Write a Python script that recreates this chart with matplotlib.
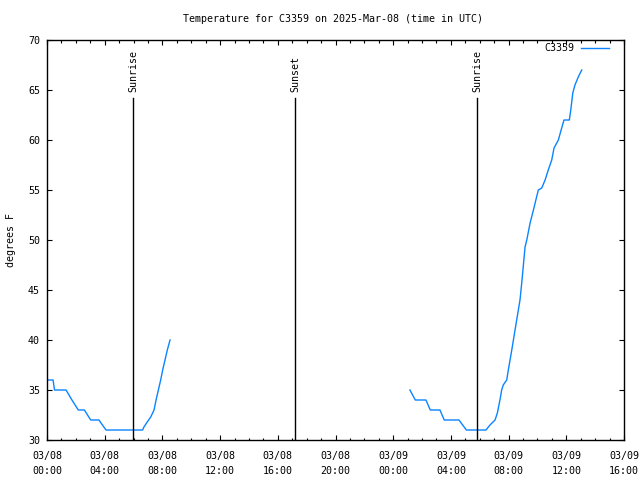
import matplotlib
matplotlib.use("Agg")
import matplotlib.pyplot as plt
from matplotlib.ticker import MultipleLocator, FixedLocator

# ---- data (hours since 03/08 00:00 UTC, degrees F) ----
h1 = [0.0, 0.42, 0.52, 1.32, 1.73, 2.17, 2.59, 3.03, 3.60, 4.09, 6.63, 6.72,
      6.95, 7.19, 7.42, 7.56, 7.72, 7.88, 8.02, 8.18, 8.34, 8.53]
t1 = [36, 36, 35, 35, 34, 33, 33, 32, 32, 31, 31, 31.3,
      31.8, 32.3, 33, 34, 35, 36, 37, 38, 39, 40]

h2 = [25.16, 25.53, 26.27, 26.57, 27.24, 27.54, 28.56, 29.07, 30.43, 30.71,
      31.06, 31.22, 31.40, 31.52, 31.63, 31.87, 31.98, 32.22, 32.56, 32.79,
      32.91, 33.09, 33.14, 33.26, 33.49, 33.72, 34.06, 34.30, 34.53, 34.75,
      34.99, 35.15, 35.45, 35.68, 35.84, 36.21, 36.31, 36.45, 36.60, 36.83, 37.07]
t2 = [35, 34, 34, 33, 33, 32, 32, 31, 31, 31.5,
      32, 32.7, 34, 35, 35.5, 36, 37, 39, 42, 44,
      45.7, 48.5, 49.3, 50, 51.7, 53, 55, 55.2, 56, 57,
      58, 59.2, 60, 61.2, 62, 62, 63, 64.7, 65.5, 66.3, 67]

sun_events = ["Sunrise", "Sunset", "Sunrise"]
sun_hours = [5.98, 17.19, 29.83]
sun_top = 64.2

tick_hours = [0, 4, 8, 12, 16, 20, 24, 28, 32, 36, 40]
tick_labels = ["03/08\n00:00", "03/08\n04:00", "03/08\n08:00", "03/08\n12:00",
               "03/08\n16:00", "03/08\n20:00", "03/09\n00:00", "03/09\n04:00",
               "03/09\n08:00", "03/09\n12:00", "03/09\n16:00"]

title = "Temperature for C3359 on 2025-Mar-08 (time in UTC)"
series_name = "C3359"
color = "#0a84ff"

plt.rcParams['font.family'] = ['DejaVu Sans Mono']
fs = 7.2

fig = plt.figure(figsize=(6.4, 4.8), dpi=100)
ax = fig.add_axes([47/640, 1-440/480, (624-47)/640, 400/480])

ln, = ax.plot(h1, t1, color=color, lw=1.0, label=series_name)
ax.plot(h2, t2, color=color, lw=1.0)

for name, hx in zip(sun_events, sun_hours):
    ax.plot([hx, hx], [30, sun_top], color="black", lw=1.0)
    ax.text(hx, sun_top + 0.6, name, rotation=90, ha="center", va="bottom",
            fontsize=fs)

ax.set_xlim(0, 40)
ax.set_ylim(30, 70)
ax.xaxis.set_major_locator(FixedLocator(tick_hours))
ax.set_xticklabels(tick_labels, fontsize=fs, linespacing=1.6)
ax.xaxis.set_minor_locator(MultipleLocator(1))
ax.yaxis.set_major_locator(MultipleLocator(5))
ax.tick_params(axis='y', labelsize=fs)
ax.tick_params(which='both', direction='in', top=True, right=True,
               width=0.8, color='black')
ax.tick_params(which='major', length=3.6, pad=5)
ax.tick_params(which='minor', length=1.8)
ax.tick_params(axis='x', which='major', pad=8)
for s in ax.spines.values():
    s.set_linewidth(1.0)

ax.set_ylabel("degrees F", fontsize=fs, labelpad=9)
fig.text(333/640, 1-19/480, title, ha="center", va="center", fontsize=fs)

ax.legend(handles=[ln], loc="upper right", frameon=False, markerfirst=False,
          fontsize=fs, handlelength=2.8, handletextpad=0.7,
          borderpad=0, borderaxespad=0,
          bbox_to_anchor=((609-47)/577, 0.992))

fig.savefig("out.png", dpi=100)
